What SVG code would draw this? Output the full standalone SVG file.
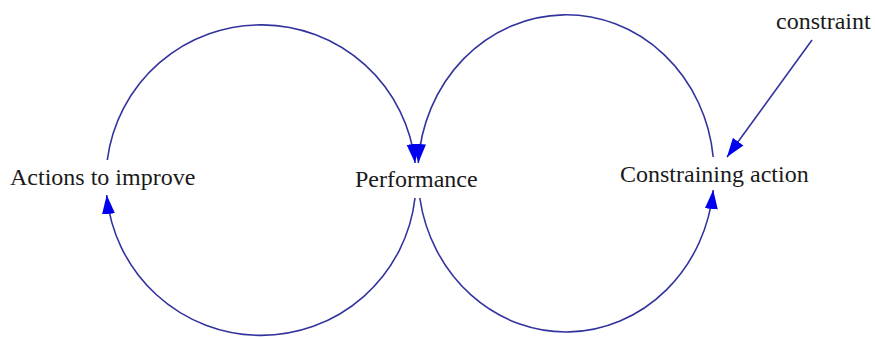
<svg xmlns="http://www.w3.org/2000/svg" width="875" height="337" viewBox="0 0 875 337">
<style>
.lbl{font-family:"Liberation Serif","Times New Roman",serif;font-size:24px;fill:#1a1a1a}
.arc{fill:none;stroke:#33339e;stroke-width:1.6}
</style>
<defs>
<marker id="ah" markerUnits="userSpaceOnUse" markerWidth="20" markerHeight="14" refX="19" refY="7" orient="auto">
<path d="M0,0.5 L19,7 L0,13.5 z" fill="#0000ee"/>
</marker>
</defs>
<rect width="875" height="337" fill="#fff"/>
<g id="connectors">
<path class="arc" d="M107.3,160 A155,155 0 0 1 415.1,163" marker-end="url(#ah)"/>
<path class="arc" d="M415,198 A155,155 0 0 1 106.7,195" marker-end="url(#ah)"/>
<path class="arc" d="M713.2,157 A148,158.5 0 0 0 418.3,163" marker-end="url(#ah)"/>
<path class="arc" d="M419.8,198 A148,158.5 0 0 0 713.2,190" marker-end="url(#ah)"/>
<path class="arc" d="M812,40 L727,157" marker-end="url(#ah)"/>
</g>
<g id="actions"><text class="lbl" x="10" y="185">Actions to improve</text></g>
<g id="performance"><text class="lbl" x="355" y="187">Performance</text></g>
<g id="constraining"><text class="lbl" x="620" y="182">Constraining action</text></g>
<g id="constraint"><text class="lbl" x="776" y="29">constraint</text></g>
</svg>
